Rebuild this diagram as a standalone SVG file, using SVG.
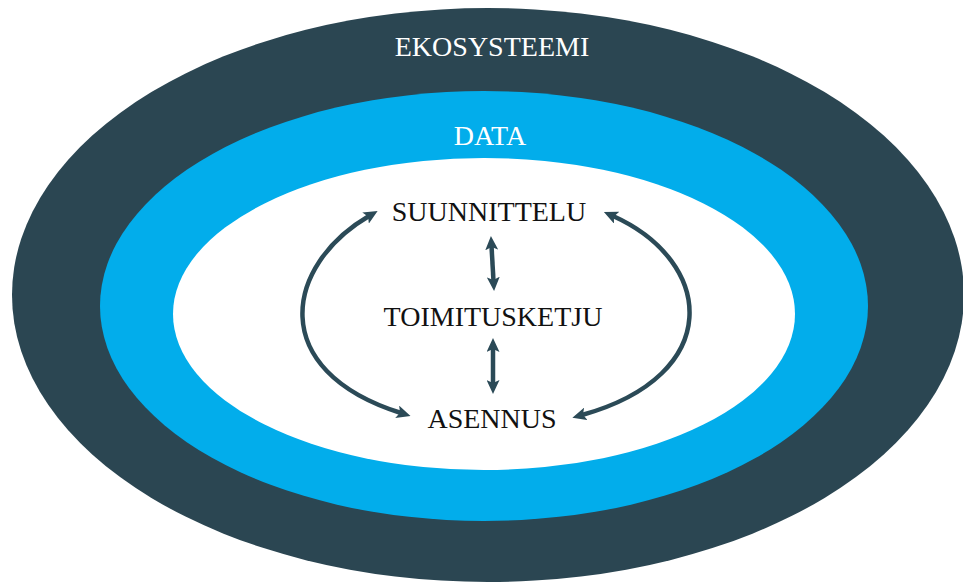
<svg xmlns="http://www.w3.org/2000/svg" width="963" height="583" viewBox="0 0 963 583">
  <style>
    .lbl { font-family: "Liberation Serif", "Times New Roman", serif; font-size: 28px; text-anchor: middle; }
    .light { fill: #ffffff; }
    .ink { fill: #111111; }
    .link { fill: none; stroke: #2b4a57; stroke-width: 4.5; }
  </style>
  <defs>
    <marker id="head" viewBox="0 0 14 13" markerUnits="userSpaceOnUse" markerWidth="14" markerHeight="13" refX="4" refY="6.5" orient="auto-start-reverse">
      <path d="M0,0 L14,6.5 L0,13 L3,6.5 z" fill="#2b4a57"/>
    </marker>
  </defs>

  <rect width="963" height="583" fill="#ffffff"/>

  <g id="ekosysteemi">
    <ellipse cx="488" cy="295" rx="476" ry="287" fill="#2b4652"/>
    <text class="lbl light" x="492" y="56">EKOSYSTEEMI</text>
  </g>
  <g id="data">
    <ellipse cx="484" cy="306" rx="384" ry="215" fill="#02adeb"/>
    <text class="lbl light" x="490" y="145" font-size="27">DATA</text>
  </g>
  <g id="core">
    <ellipse cx="484" cy="314" rx="311" ry="156" fill="#ffffff"/>
  </g>

  <g id="suunnittelu">
    <text class="lbl ink" x="489" y="221">SUUNNITTELU</text>
  </g>
  <g id="toimitusketju">
    <text class="lbl ink" x="493" y="326">TOIMITUSKETJU</text>
  </g>
  <g id="asennus">
    <text class="lbl ink" x="492" y="428">ASENNUS</text>
  </g>

  <g id="connectors">
    <path class="link" d="M491.5,246 L493.5,281" marker-start="url(#head)" marker-end="url(#head)"/>
    <path class="link" d="M493,348 L493,384" marker-start="url(#head)" marker-end="url(#head)"/>
    <path class="link" d="M369,216 C285,265 265,370 401,413" marker-start="url(#head)" marker-end="url(#head)"/>
    <path class="link" d="M613,216 C715,262 725,375 582,415" marker-start="url(#head)" marker-end="url(#head)"/>
  </g>
</svg>
